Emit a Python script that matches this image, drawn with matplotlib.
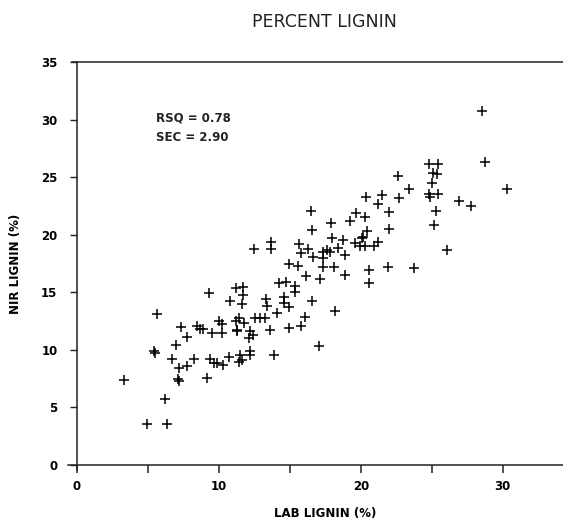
import matplotlib
matplotlib.use("Agg")
import matplotlib.pyplot as plt

# lab lignin (%) vs NIR-predicted lignin (%)
lab_lignin = [
    3.34, 4.96, 5.43, 5.50, 5.66, 6.18, 6.36, 6.72,
    7.00, 7.14, 7.20, 7.19, 7.30, 7.77, 7.77, 8.22, 8.43, 8.67, 8.90,
    9.18, 9.33, 9.40, 9.53, 9.65, 9.89, 10.03, 10.20, 10.24, 10.27, 10.74, 10.78,
    11.18, 11.68, 11.72, 11.64, 11.18, 11.44, 11.75, 11.25, 11.30, 11.49, 11.60, 11.44,
    12.19, 12.10, 12.40, 12.22, 12.19,
    12.47, 12.54, 12.90, 13.22, 13.30, 13.37, 13.60, 13.68, 13.68, 13.88, 14.07,
    14.25, 14.73, 14.56, 14.59, 14.92, 14.92,
    14.96, 15.57, 15.33, 15.36, 15.79, 16.09, 15.67, 15.80, 16.14, 16.30, 16.49,
    16.56, 16.54, 16.65, 17.03,
    17.12, 17.31, 17.59, 17.83, 17.31, 17.36, 17.90, 17.97, 18.13, 18.18, 18.42,
    18.77, 18.90, 18.89,
    19.22, 19.66, 19.62, 19.92, 20.30, 20.30, 20.35, 20.42, 20.18, 20.06, 20.60,
    20.60, 20.93,
    21.19, 21.23, 21.51, 21.94, 22.01, 22.01, 22.64, 22.71, 23.40, 23.77,
    24.80, 25.42, 25.07, 25.39, 25.00, 24.80, 24.88, 25.42, 25.30, 25.16, 26.10,
    26.92, 27.74, 28.57, 28.75, 30.28,
]
nir_lignin = [
    7.35, 3.59, 9.90, 9.75, 13.08, 5.70, 3.59, 9.17,
    10.40, 7.45, 7.30, 8.39, 12.00, 11.14, 8.62, 9.17, 12.07, 11.80, 11.80,
    7.55, 14.90, 9.22, 11.49, 8.88, 8.83, 12.53, 12.25, 11.49, 8.68, 9.35, 14.20,
    15.35, 15.45, 14.76, 14.00, 12.47, 12.73, 12.37, 11.70, 11.62, 9.55, 9.11, 8.97,
    11.65, 11.07, 11.28, 9.90, 9.55,
    18.80, 12.79, 12.79, 12.76, 14.38, 13.77, 11.72, 19.33, 18.75, 9.55, 13.22,
    15.77, 15.91, 14.62, 14.04, 13.74, 11.90,
    17.50, 17.27, 15.57, 15.04, 12.07, 12.88, 19.20, 18.38, 16.40, 18.75, 22.10,
    20.40, 14.25, 18.08, 10.33,
    16.15, 18.52, 18.66, 18.52, 18.00, 17.16, 21.00, 19.73, 17.16, 13.40, 18.81,
    19.53, 18.23, 16.49,
    21.20, 21.90, 19.27, 19.02, 19.05, 21.50, 23.24, 20.34, 19.80, 19.68, 16.96,
    15.83, 19.00,
    22.66, 19.38, 23.44, 17.21, 21.93, 20.49, 25.07, 23.20, 23.93, 17.13,
    26.10, 26.10, 25.37, 25.26, 24.45, 23.50, 23.24, 23.50, 22.10, 20.83, 18.65,
    22.92, 22.48, 30.76, 26.28, 23.93,
]
x_ticks = [0, 10, 20, 30]
x_minor = [5, 15, 25]
y_ticks = [0, 5, 10, 15, 20, 25, 30, 35]
stats = ["RSQ = 0.78", "SEC = 2.90"]

FONT = "DejaVu Sans"
INK = "#222222"

fig = plt.figure(figsize=(5.63, 5.2), dpi=100)
# axes run past the right edge of the page, like the scan
ax = fig.add_axes([77 / 563, 55 / 520, 496.6 / 563, 403 / 520])

ax.plot(lab_lignin, nir_lignin, "+", color="black", ms=6.5, mew=1.1, clip_on=False)

ax.set_xlim(0, 35)
ax.set_ylim(0, 35)
ax.set_xticks(x_ticks)
ax.set_xticks(x_minor, minor=True)
ax.set_yticks(y_ticks)
ax.set_xticklabels([str(t) for t in x_ticks], family=FONT, fontsize=8.5, fontweight="bold")
ax.set_yticklabels([str(t) for t in y_ticks], family=FONT, fontsize=8.5, fontweight="bold")
ax.tick_params(axis="x", which="both", direction="out", length=6, width=1.1,
               color=INK, pad=5)
ax.tick_params(axis="y", direction="out", length=5, width=1.0, color=INK, pad=9)

for side in ["left", "bottom", "top"]:
    ax.spines[side].set_color(INK)
    ax.spines[side].set_linewidth(1.1)
ax.spines["right"].set_visible(False)
# frame lines poke out a little past the corner on the scan
ax.spines["bottom"].set_bounds(-0.6, 35)
ax.spines["top"].set_bounds(-0.35, 35)
ax.spines["left"].set_bounds(-0.4, 35)

ax.set_xlabel("LAB LIGNIN (%)", family=FONT, fontsize=8.5, fontweight="bold", labelpad=10)
ax.set_ylabel("NIR LIGNIN (%)", family=FONT, fontsize=8.5, fontweight="bold", labelpad=14)

ax.text(5.57, 30.1, stats[0], family=FONT, fontsize=8.5, fontweight="bold",
        ha="left", va="center", color=INK)
ax.text(5.57, 28.4, stats[1], family=FONT, fontsize=8.5, fontweight="bold",
        ha="left", va="center", color=INK)

fig.text(324 / 563, 1 - 22 / 520, "PERCENT LIGNIN", family=FONT, fontsize=12.5,
         ha="center", va="center", color=INK)

fig.savefig("out.png", dpi=100)
